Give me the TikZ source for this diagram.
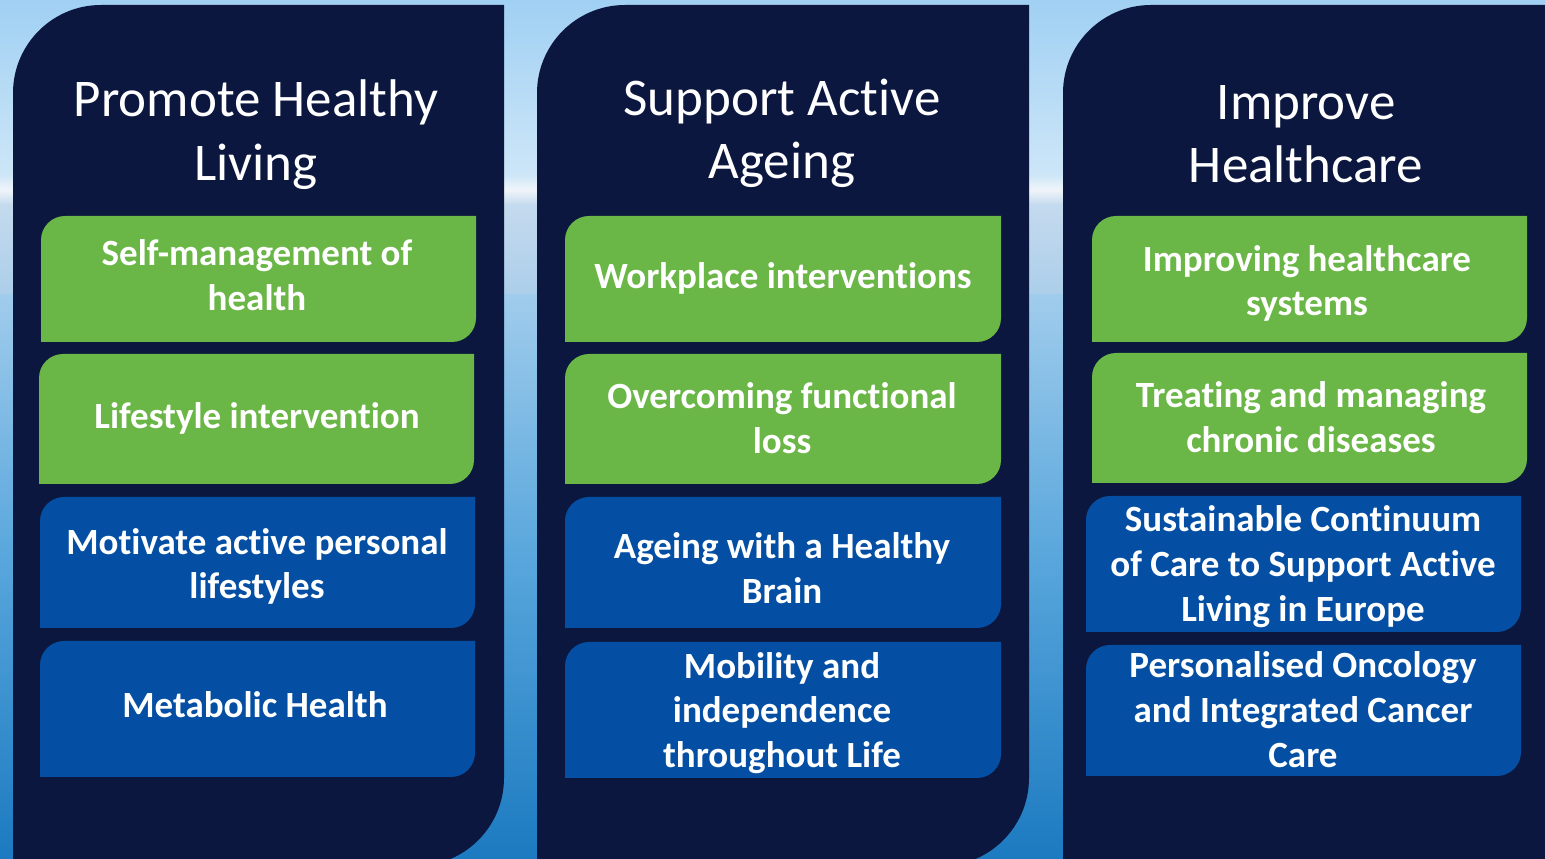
\documentclass[tikz,border=0pt]{standalone}
\usepackage{fontspec}
\setmainfont{Carlito}[Ligatures=NoCommon]
\definecolor{navy}{RGB}{11,23,62}
\definecolor{boxgreen}{RGB}{106,182,70}
\definecolor{boxblue}{RGB}{4,79,163}
\newcommand\tlbrbox[5]{\fill[#1] (#2,#5) -- (#2,#3-24) arc[start angle=180,end angle=90,radius=24pt] -- (#4,#3) -- (#4,#5+24) arc[start angle=0,end angle=-90,radius=24pt] -- cycle;}
\newcommand\columnshape[3]{\fill[navy] (#1,#3) -- (#1,854-88) arc[start angle=180,end angle=90,radius=88pt] -- (#2,854) -- (#2,#3+88) arc[start angle=0,end angle=-90,radius=88pt] -- cycle;}
\tikzset{
  title/.style={text=white, align=center, font=\fontsize{53}{63.5}\selectfont, inner sep=0pt},
  label/.style={text=white, align=center, font=\fontsize{37}{44.8}\selectfont\bfseries, inner sep=0pt}
}
\begin{document}
\begin{tikzpicture}[x=1pt,y=1pt]
\useasboundingbox (0,0) rectangle (1545,859);
\begin{scope}
\clip (0,0) rectangle (1545,859);
% background sky and sea
\fill[top color={rgb,255:red,160;green,208;blue,243}, bottom color={rgb,255:red,205;green,230;blue,248}] (0,859) rectangle (1545,684);
\fill[top color={rgb,255:red,205;green,230;blue,248}, bottom color={rgb,255:red,196;green,218;blue,238}, middle color={rgb,255:red,240;green,244;blue,249}] (0,684.5) rectangle (1545,654);
\fill[top color={rgb,255:red,196;green,218;blue,238}, bottom color={rgb,255:red,172;green,206;blue,234}] (0,654.5) rectangle (1545,564);
\fill[top color={rgb,255:red,160;green,204;blue,236}, bottom color={rgb,255:red,88;green,166;blue,220}] (0,564.5) rectangle (1545,300);
\fill[top color={rgb,255:red,88;green,166;blue,220}, bottom color={rgb,255:red,28;green,122;blue,192}] (0,300.5) rectangle (1545,0);
% columns
\columnshape{13}{504}{-7}
\columnshape{537}{1029}{-7}
\columnshape{1063}{1640}{-7}
\end{scope}
% column 1
\tlbrbox{boxgreen}{41}{643}{476}{517}
\tlbrbox{boxgreen}{39}{505}{474}{375}
\tlbrbox{boxblue}{40}{362}{475}{231}
\tlbrbox{boxblue}{40}{218}{475}{82}
% column 2
\tlbrbox{boxgreen}{565}{643}{1001}{517}
\tlbrbox{boxgreen}{565}{505}{1001}{375}
\tlbrbox{boxblue}{565}{362}{1001}{231}
\tlbrbox{boxblue}{565}{217}{1001}{81}
% column 3
\tlbrbox{boxgreen}{1092}{643}{1527}{517}
\tlbrbox{boxgreen}{1092}{506}{1527}{376}
\tlbrbox{boxblue}{1086}{363}{1521}{227}
\tlbrbox{boxblue}{1086}{214}{1521}{83}
% titles
\node[title] (t1) at (256,724.5) {Promote Healthy\\Living};
\node[title] (t2) at (782,725.5) {Support Active\\Ageing};
\node[title] (t3) at (1306,725) {Improve\\Healthcare};
% labels
\node[label] (a1) at (257,583.5) {Self-management of\\health};
\node[label] (a2) at (257,441) {Lifestyle intervention};
\node[label] (a3) at (257,292.5) {Motivate active personal\\lifestyles};
\node[label] (a4) at (255,154) {Metabolic Health};
\node[label] (b1) at (783,581) {Workplace interventions};
\node[label] (b2) at (782,440.5) {Overcoming functional\\loss};
\node[label] (b3) at (782,290.5) {Ageing with a Healthy\\Brain};
\node[label] (b4) at (782,146) {Mobility and\\independence\\throughout Life};
\node[label] (c1) at (1307,575.5) {Improving healthcare\\systems};
\node[label] (c2) at (1311,442) {Treating and managing\\chronic diseases};
\node[label] (c3) at (1303,292.5) {Sustainable Continuum\\of Care to Support Active\\Living in Europe};
\node[label] (c4) at (1303,149.5) {Personalised Oncology\\and Integrated Cancer\\Care};
\end{tikzpicture}
\end{document}
